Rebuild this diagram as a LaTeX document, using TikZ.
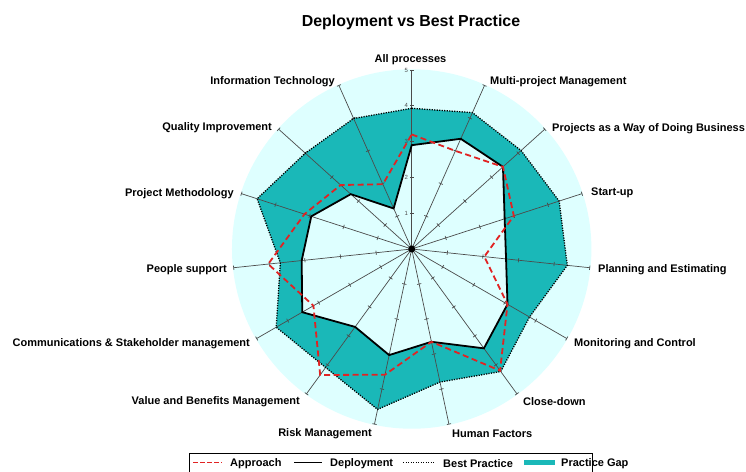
\documentclass[tikz,border=0pt]{standalone}
\usepackage{fontspec}
\setmainfont{Liberation Sans}
\definecolor{bgcyan}{RGB}{222,255,255}
\definecolor{gapteal}{RGB}{26,184,184}
\definecolor{appred}{RGB}{225,35,35}
\definecolor{axisgray}{RGB}{75,75,75}
\begin{document}
\begin{tikzpicture}[x=1pt,y=1pt,
  lab/.style={font=\fontsize{11}{13}\selectfont\bfseries, inner sep=0pt, text=black},
  leglab/.style={font=\fontsize{11}{13}\selectfont\bfseries, inner sep=0pt, anchor=west},
  ticklab/.style={font=\fontsize{6}{7}\selectfont, inner sep=0pt, text=axisgray, anchor=east},
  axisline/.style={draw=axisgray, line width=0.7pt},
  bestline/.style={draw=black, line width=1.3pt, dash pattern=on 1.2pt off 1.3pt},
  deployline/.style={draw=black, line width=1.8pt, line join=miter},
  approachline/.style={draw=appred, line width=1.8pt, dash pattern=on 6pt off 3.5pt},
  legbox/.style={draw=black, line width=0.8pt}]
\useasboundingbox (0,0) rectangle (746,471);
\fill[white] (0,0) rectangle (746,471);
% title
\node[font=\fontsize{15.9}{18}\selectfont\bfseries, inner sep=0pt] (title) at (411,449) {Deployment vs Best Practice};
\begin{scope}[shift={(411.7,222)}, x=35.8pt, y=35.8pt]
  \fill[bgcyan] (0,0) circle (5.02);
  \foreach \v [count=\i from 0] in {3.93,4.17,4.11,4.33,4.37,3.8,4.23,3.8,4.58,4.09,4.37,3.69,4.54,4.0,3.99}
    \coordinate (B\i) at ({90-24*\i}:\v);
  \foreach \v [count=\i from 0] in {2.9,3.37,3.43,2.73,2.65,3.09,3.43,2.65,3.03,2.69,3.53,3.09,2.95,2.29,1.24}
    \coordinate (D\i) at ({90-24*\i}:\v);
  \foreach \v [count=\i from 0] in {3.2,3.0,3.43,3.0,2.04,3.09,4.2,2.65,3.59,4.35,3.17,4.03,3.15,2.67,1.98}
    \coordinate (A\i) at ({90-24*\i}:\v);
  \fill[gapteal] (B0) \foreach \i in {1,...,14}{ -- (B\i)} -- cycle;
  \fill[bgcyan] (D0) \foreach \i in {1,...,14}{ -- (D\i)} -- cycle;
  % axes
  \coordinate (ctr) at (0,0);
  \foreach \k in {0,...,14}{
    \begin{scope}[rotate={90-24*\k}]
      \coordinate (E\k) at (5,0);
      \draw[axisline] (ctr) -- (E\k);
      \foreach \t in {1,...,5}
        \draw[axisline] (\t,-0.06) -- (\t,0.06);
    \end{scope}
  }
  \foreach \t in {1,...,5}
    \node[ticklab] (tl\t) at (-0.1,\t) {\t};
  \draw[bestline] (B0) \foreach \i in {1,...,14}{ -- (B\i)} -- cycle;
  \draw[deployline] (D0) \foreach \i in {1,...,14}{ -- (D\i)} -- cycle;
  \draw[approachline] (A0) \foreach \i in {1,...,14}{ -- (A\i)} -- cycle;
  \fill[black] (ctr) circle (3.5pt);
\end{scope}
% axis labels
\node[lab] (L0) at (410.5,411) {All processes};
\node[lab, anchor=west] (L1) at (490,389) {Multi-project Management};
\node[lab, anchor=west] (L2) at (552,342) {Projects as a Way of Doing Business};
\node[lab, anchor=west] (L3) at (591,278) {Start-up};
\node[lab, anchor=west] (L4) at (598,201) {Planning and Estimating};
\node[lab, anchor=west] (L5) at (574,127) {Monitoring and Control};
\node[lab, anchor=west] (L6) at (523,69) {Close-down};
\node[lab, anchor=west] (L7) at (452,37) {Human Factors};
\node[lab, anchor=east] (L8) at (372,37) {Risk Management};
\node[lab, anchor=east] (L9) at (300,69) {Value and Benefits Management};
\node[lab, anchor=east] (L10) at (250,127) {Communications \& Stakeholder management};
\node[lab, anchor=east] (L11) at (227,201) {People support};
\node[lab, anchor=east] (L12) at (234,277) {Project Methodology};
\node[lab, anchor=east] (L13) at (272,343) {Quality Improvement};
\node[lab, anchor=east] (L14) at (335,389) {Information Technology};
% legend
\draw[legbox] (189,-5) rectangle (592,18);
\coordinate (la1) at (193,8.5); \coordinate (la2) at (222,8.5);
\draw[approachline, line width=1.6pt, dash pattern=on 4.5pt off 2.5pt] (la1) -- (la2);
\node[leglab] (lgA) at (230,7.5) {Approach};
\coordinate (ld1) at (294,8.5); \coordinate (ld2) at (322,8.5);
\draw[deployline, line width=1.5pt] (ld1) -- (ld2);
\node[leglab] (lgD) at (330,7.5) {Deployment};
\coordinate (lb1) at (403,8.5); \coordinate (lb2) at (435,8.5);
\draw[bestline, line width=1.1pt] (lb1) -- (lb2);
\node[leglab] (lgB) at (443,7.5) {Best Practice};
\fill[gapteal] (524,6) rectangle (555,11);
\node[leglab] (lgG) at (561,7.5) {Practice Gap};
\end{tikzpicture}
\end{document}
